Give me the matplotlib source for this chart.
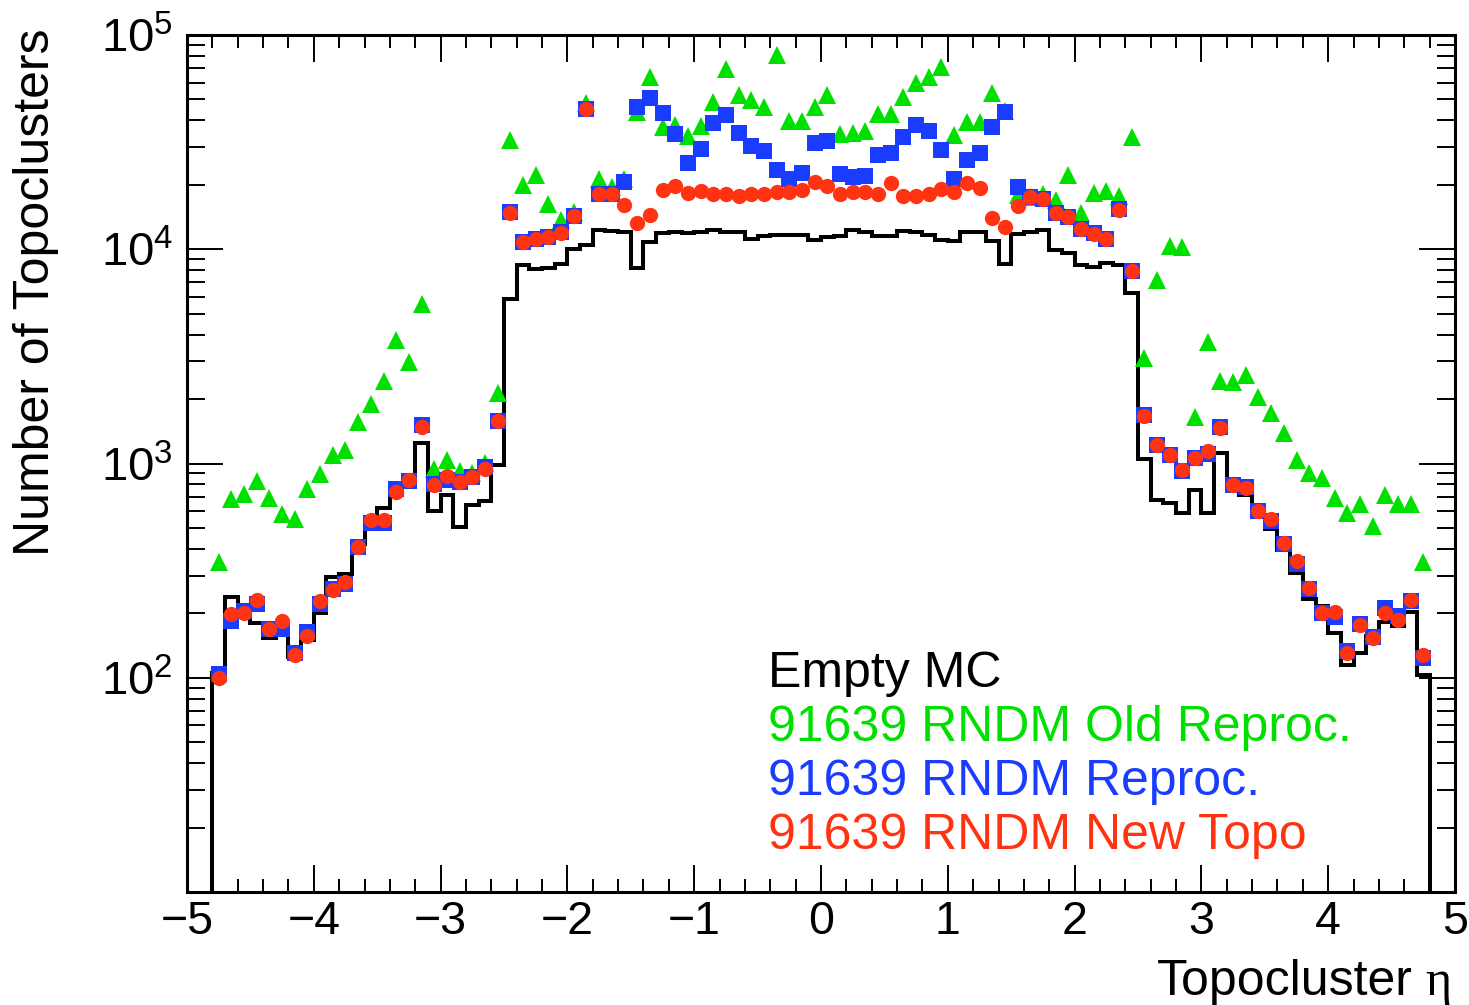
import numpy as np
import matplotlib
matplotlib.use("Agg")
import matplotlib.pyplot as plt
from matplotlib.ticker import MultipleLocator, FixedLocator, LogLocator, NullFormatter, FuncFormatter

# ---------------- data ----------------
eta_min, eta_max, n_bins = -4.8, 4.8, 96

empty_mc = [105, 239, 215, 180, 153, 169, 125, 150, 200, 294, 305, 420, 560, 618, 780, 860,
            1250, 603, 715, 508, 637, 671, 987, 5890, 8410, 8130, 8200, 8490, 10000, 10440,
            12270, 12200, 12050, 8210, 10810, 11910, 12050, 11910, 12050, 12270, 12050, 12050,
            11220, 11510, 11650, 11600, 11600, 11090, 11400, 11540, 12270, 12050, 11540, 11540,
            12130, 12050, 11710, 11090, 10940, 12000, 12000, 10940, 8570, 11750, 12050, 12270,
            9890, 9620, 8410, 8260, 8640, 8410, 6250, 1052, 678, 652, 587, 755, 587, 1124,
            780, 713, 574, 492, 396, 307, 234, 217, 162, 115, 131, 156, 182, 175, 202, 103]

old_reproc = [346, 684, 722, 833, 692, 582, 552, 762, 895, 1101, 1159, 1559, 1901, 2427, 3758,
              2973, 5570, 944, 1040, 927, 900, 1003, 2132, 32270, 19900, 22180, 16330, 13680,
              14940, 48310, 21390, 19500, 21390, 43840, 63830, 37240, 37930, 33740, 37570, 48780,
              69150, 52480, 49660, 45920, 80670, 39810, 39810, 46240, 52480, 34440, 34700, 35740,
              42770, 43000, 51520, 59430, 63830, 71150, 34120, 39360, 39360, 53750, 44000, 18000,
              17500, 18200, 16940, 22180, 14690, 18320, 18650, 17740, 33480, 3100, 7200, 10300,
              10230, 1648, 3707, 2432, 2390, 2582, 2042, 1715, 1393, 1040, 900, 860, 690, 590,
              646, 511, 713, 646, 650, 346]

reproc = [104, 185, 204, 221, 168, 169, 130, 163, 222, 260, 274, 406, 526, 530, 764, 830, 1520,
          800, 842, 820, 864, 962, 1584, 15000, 10810, 11200, 11420, 12000, 14330, 45100, 18200,
          18200, 20650, 46240, 50600, 43360, 34440, 25290, 29250, 38940, 42280, 34900, 30270,
          28760, 23390, 21390, 22590, 31410, 31990, 22400, 21780, 22000, 27480, 28190, 33480,
          37930, 35740, 29030, 21180, 26230, 28000, 37240, 43840, 19540, 17540, 17140, 14800,
          14150, 12450, 11900, 11200, 15400, 7950, 1680, 1216, 1094, 920, 1059, 1107, 1480, 791,
          775, 603, 540, 420, 339, 260, 201, 193, 133, 178, 155, 212, 194, 228, 124]

new_topo = [100, 199, 200, 231, 168, 185, 128, 157, 229, 257, 281, 406, 542, 546, 734, 842, 1478,
            792, 879, 824, 864, 938, 1584, 14790, 10810, 11140, 11420, 11970, 14330, 45100, 18200,
            18200, 16070, 13270, 14520, 19000, 19770, 18320, 18650, 18070, 18070, 17740, 18070,
            18200, 18500, 18500, 18880, 20650, 19680, 18200, 18500, 18500, 18070, 20280, 17740,
            17740, 18200, 19060, 18500, 20420, 19220, 14000, 12700, 15920, 17540, 17140, 14690,
            14150, 12380, 11750, 11140, 15300, 7900, 1667, 1216, 1094, 935, 1059, 1146, 1466, 791,
            770, 603, 552, 426, 352, 263, 200, 202, 130, 176, 154, 200, 187, 231, 128]

legend_labels = ["Empty MC", "91639 RNDM Old Reproc.", "91639 RNDM Reproc.", "91639 RNDM New Topo"]
x_ticks = [-5, -4, -3, -2, -1, 0, 1, 2, 3, 4, 5]
y_ticks = [1e2, 1e3, 1e4, 1e5]

# ---------------- style ----------------
W, H = 1469, 1005
BLACK = "#000000"
GREEN = "#00E000"
BLUE = "#1a3cff"
RED = "#ff3311"
SANS = "Liberation Sans"

plt.rcParams["font.family"] = [SANS, "DejaVu Sans"]
plt.rcParams["mathtext.fontset"] = "custom"
plt.rcParams["mathtext.rm"] = SANS
plt.rcParams["mathtext.it"] = SANS + ":italic"
plt.rcParams["mathtext.bf"] = SANS + ":bold"

edges = np.linspace(eta_min, eta_max, n_bins + 1)
centers = 0.5 * (edges[:-1] + edges[1:])

fig = plt.figure(figsize=(W / 100, H / 100), dpi=100)
ax = fig.add_axes([187 / W, 1 - 892 / H, (1455 - 187) / W, (892 - 35) / H])

ax.set_xlim(-5, 5)
ax.set_yscale("log")
ax.set_ylim(10, 1e5)

ax.stairs(empty_mc, edges, baseline=1, color=BLACK, lw=2.9, zorder=2)
ax.plot(centers, old_reproc, ls="none", marker="^", ms=13.2, color=GREEN, mew=0, zorder=3)
ax.plot(centers, reproc, ls="none", marker="s", ms=11.3, color=BLUE, mew=0, zorder=4)
ax.plot(centers, new_topo, ls="none", marker="o", ms=11.0, color=RED, mew=0, zorder=5)

# axes / ticks
for s in ax.spines.values():
    s.set_linewidth(2.2)
ax.xaxis.set_major_locator(FixedLocator(x_ticks))
ax.xaxis.set_minor_locator(MultipleLocator(0.2))
ax.yaxis.set_major_locator(FixedLocator(y_ticks))
ax.yaxis.set_minor_locator(LogLocator(base=10, subs=np.arange(2, 10)))
ax.yaxis.set_minor_formatter(NullFormatter())
ax.yaxis.set_major_formatter(FuncFormatter(lambda v, p: r"$10^{%d}$" % int(round(np.log10(v)))))
ax.xaxis.set_major_formatter(FuncFormatter(lambda v, p: ("\u2212%d" % abs(v)) if v < 0 else "%d" % v))

ax.tick_params(axis="both", which="both", direction="in", top=True, right=True, width=1.4)
ax.tick_params(axis="x", which="major", length=19.5, labelsize=33.5, pad=6)
ax.tick_params(axis="x", which="minor", length=9.5)
ax.tick_params(axis="y", which="major", length=26, labelsize=34, pad=10)
ax.tick_params(axis="y", which="minor", length=13)

# axis titles
fig.text(36 / W, 1 - 292 / H, "Number of Topoclusters", rotation=90, ha="center", va="center",
         fontsize=36, family=SANS)
fig.text(1157 / W, 1 - 995 / H, "Topocluster", ha="left", va="baseline", fontsize=36, family=SANS)
fig.text(1451 / W, 1 - 995 / H, "\u03b7", ha="right", va="baseline", fontsize=36,
         family=["Liberation Serif", "DejaVu Serif"])

# legend text
leg_colors = [BLACK, GREEN, BLUE, RED]
leg_baselines = [687, 741, 795, 849]
for lab, col, yb in zip(legend_labels, leg_colors, leg_baselines):
    fig.text(768 / W, 1 - yb / H, lab, color=col, ha="left", va="baseline", fontsize=36, family=SANS)

fig.savefig("out.png", dpi=100)
